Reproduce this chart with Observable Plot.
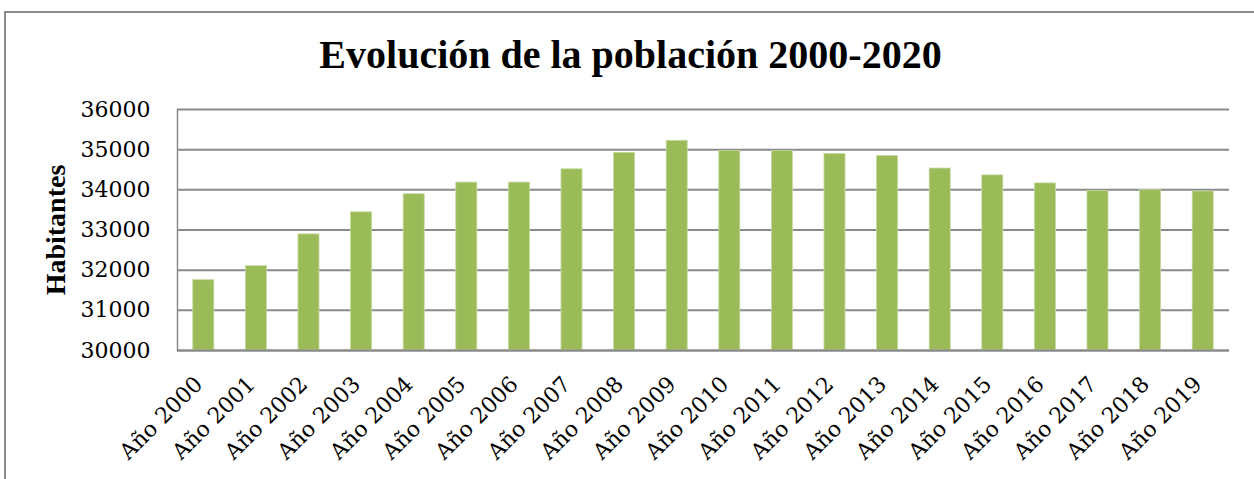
<!DOCTYPE html>
<html>
<head>
<meta charset="utf-8">
<script src="https://cdn.jsdelivr.net/npm/d3@7"></script>
<script src="https://cdn.jsdelivr.net/npm/@observablehq/plot@0.6"></script>
<style>
  html, body { margin: 0; padding: 0; background: #fff; }
  #wrap { position: relative; width: 1254px; height: 479px; overflow: hidden; background: #fff; }
  #frame { position: absolute; left: 4px; top: 11px; width: 1300px; height: 520px;
           border-top: 2px solid #8c8c8c; border-left: 2px solid #8c8c8c; }
  #title { position: absolute; left: 0; width: 1261px; top: 35px; text-align: center;
           font-family: "Liberation Serif", serif; font-weight: bold; font-size: 40px; line-height: 40px;
           color: #000; white-space: nowrap; }
  #ylabel { position: absolute; left: 56px; top: 230px; transform: translate(-50%, -50%) rotate(-90deg);
            font-family: "Liberation Serif", serif; font-weight: bold; font-size: 28px; line-height: 28px;
            color: #000; white-space: nowrap; }
  #chart { position: absolute; left: 0; top: 0; }
</style>
</head>
<body>
<div id="wrap">
  <div id="frame"></div>
  <div id="chart"></div>
  <div id="title"></div>
  <div id="ylabel"></div>
</div>
<script>
const titleText = "Evolución de la población 2000-2020";
const yLabel = "Habitantes";
const years = ["Año 2000","Año 2001","Año 2002","Año 2003","Año 2004","Año 2005","Año 2006","Año 2007","Año 2008","Año 2009",
               "Año 2010","Año 2011","Año 2012","Año 2013","Año 2014","Año 2015","Año 2016","Año 2017","Año 2018","Año 2019"];
const population = [31750, 32100, 32890, 33440, 33890, 34180, 34180, 34510, 34920, 35220,
                    34970, 34970, 34890, 34840, 34530, 34360, 34160, 33970, 33990, 33960];
const yTicks = [30000, 31000, 32000, 33000, 34000, 35000, 36000];
const yDomain = [30000, 36000];

document.getElementById("title").textContent = titleText;
document.getElementById("ylabel").textContent = yLabel;

const data = years.map((year, i) => ({year, value: population[i]}));

const chart = Plot.plot({
  width: 1254,
  height: 479,
  marginLeft: 177,
  marginRight: 25,
  marginTop: 109,
  marginBottom: 129,
  style: {fontFamily: "'DejaVu Serif', serif", fontSize: "22px", color: "#000", background: "transparent", overflow: "visible"},
  x: {domain: years, paddingInner: 0.6, paddingOuter: 0.3, align: 0.5, round: false},
  y: {domain: yDomain},
  marks: [
    Plot.gridY(yTicks, {stroke: "#8a8a8a", strokeOpacity: 1, strokeWidth: 2}),
    Plot.frame({anchor: "left", stroke: "#8a8a8a", strokeWidth: 1.5}),
    Plot.barY(data, {x: "year", y1: yDomain[0], y2: "value", fill: "#9bbb59", stroke: "#c5d9a0", strokeWidth: 0.8}),
    Plot.ruleY([yDomain[0]], {stroke: "#8a8a8a", strokeWidth: 2}),
    Plot.axisY({ticks: yTicks, tickSize: 0, tickPadding: 27, label: null, fontSize: 22, tickFormat: d => String(d)}),
    Plot.axisX({tickSize: 0, tickRotate: -45, tickPadding: 30, dx: -5, label: null, fontSize: 22})
  ]
});
document.getElementById("chart").appendChild(chart);
</script>
</body>
</html>
